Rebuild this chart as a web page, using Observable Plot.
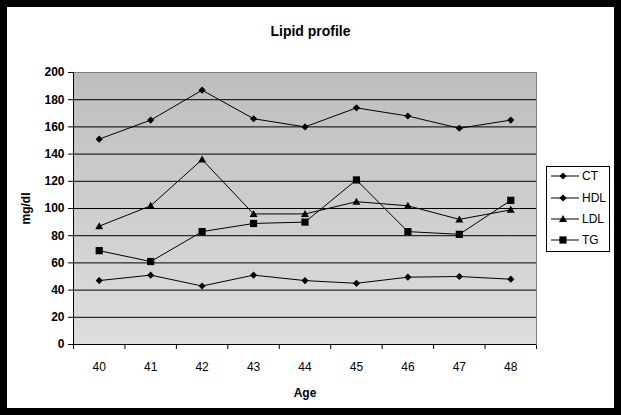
<!DOCTYPE html>
<html>
<head>
<meta charset="utf-8">
<script src="https://cdn.jsdelivr.net/npm/d3@7"></script>
<script src="https://cdn.jsdelivr.net/npm/@observablehq/plot@0.6"></script>
<style>
  html, body { margin: 0; padding: 0; background: #fff; }
  #wrap { position: relative; width: 621px; height: 415px; background: #fff; overflow: hidden;
          font-family: "Liberation Sans", Arial, sans-serif; }
  #border { position: absolute; left: 0; top: 0; width: 621px; height: 415px; box-sizing: border-box;
            border: 7px solid #000; pointer-events: none; }
  #title { position: absolute; left: 7px; width: 607px; top: 23px; text-align: center;
           font-weight: bold; font-size: 14px; color: #000; }
  #legend { position: absolute; left: 546px; top: 166px; }
  #chart { position: absolute; left: 0; top: 0; }
</style>
</head>
<body>
<div id="wrap">
  <div id="chart"></div>
  <div id="title">Lipid profile</div>
  <div id="legend"></div>
  <div id="border"></div>
</div>
<script>
// ---- data ----
const ages = [40, 41, 42, 43, 44, 45, 46, 47, 48];
const ct  = [151, 165, 187, 166, 160, 174, 168, 159, 165];
const hdl = [47, 51, 43, 51, 47, 45, 49.5, 50, 48];
const ldl = [87, 102, 136, 96, 96, 105, 102, 92, 99];
const tg  = [69, 61, 83, 89, 90, 121, 83, 81, 106];
const seriesNames = ["CT", "HDL", "LDL", "TG"];
const yTicks = [0, 20, 40, 60, 80, 100, 120, 140, 160, 180, 200];

// ---- symbols ----
const diamond = {draw(ctx, size) { const r = Math.sqrt(size / Math.PI);
  ctx.moveTo(0, -r); ctx.lineTo(r, 0); ctx.lineTo(0, r); ctx.lineTo(-r, 0); ctx.closePath(); }};
const triangle = {draw(ctx, size) { const r = Math.sqrt(size / Math.PI);
  ctx.moveTo(0, -r); ctx.lineTo(r, r * 0.75); ctx.lineTo(-r, r * 0.75); ctx.closePath(); }};
const square = {draw(ctx, size) { const r = Math.sqrt(size / Math.PI);
  ctx.rect(-r, -r, 2 * r, 2 * r); }};
const seriesValues = [ct, hdl, ldl, tg];
const seriesSymbols = [diamond, diamond, triangle, square];
const seriesR = [3.6, 3.6, 4, 3.6];

const bounds = ages.map(a => a - 0.5).concat([ages[ages.length - 1] + 0.5]);

const marks = [
  Plot.frame({fill: "url(#plotbg)", stroke: "#808080"}),
  Plot.ruleY(yTicks.slice(1, -1), {stroke: "#000", strokeWidth: 1}),
  Plot.ruleY([0], {stroke: "#000"}),
  Plot.ruleX([bounds[0]], {stroke: "#000"}),
  Plot.text(ages, {x: d => d, frameAnchor: "bottom", dy: 26, text: d => String(d), fontSize: 12, fill: "#000"})
];
seriesValues.forEach((vals, k) => {
  const rows = ages.map((a, i) => ({age: a, value: vals[i]}));
  marks.push(Plot.line(rows, {x: "age", y: "value", stroke: "#000", strokeWidth: 1}));
  marks.push(Plot.dot(rows, {x: "age", y: "value", symbol: seriesSymbols[k], r: seriesR[k], fill: "#000", stroke: "none"}));
});

const chart = Plot.plot({
  width: 621,
  height: 415,
  marginLeft: 73,
  marginRight: 85,
  marginTop: 72,
  marginBottom: 71,
  style: {fontFamily: "'Liberation Sans', Arial, sans-serif", fontSize: "12px", color: "#000", background: "transparent"},
  x: {domain: [bounds[0], bounds[bounds.length - 1]], ticks: bounds, tickFormat: () => "", tickSize: 5,
      label: "Age", labelAnchor: "center", labelOffset: 52, labelArrow: "none"},
  y: {domain: [0, 200], ticks: yTicks, tickSize: 5, tickPadding: 4, label: "mg/dl", labelAnchor: "center",
      labelOffset: 52, labelArrow: "none"},
  marks
});

// gradient defs
const svgNS = "http://www.w3.org/2000/svg";
const defs = document.createElementNS(svgNS, "defs");
defs.innerHTML = '<linearGradient id="plotbg" x1="0" y1="0" x2="0" y2="1">' +
  '<stop offset="0" stop-color="#bebebe"/><stop offset="1" stop-color="#dedede"/></linearGradient>';
chart.insertBefore(defs, chart.firstChild);
// bold axis labels, no arrows
chart.querySelectorAll("[aria-label$='label']").forEach(g => {
  g.style.fontWeight = "bold";
  g.querySelectorAll("text, tspan").forEach(t => {
    if (!t.children.length) t.textContent = t.textContent.replace(/\s*[→↑←↓]\s*/g, "");
  });
});
document.getElementById("chart").appendChild(chart);

// ---- legend (not data marks) ----
const lg = d3.select("#legend").append("svg").attr("width", 64).attr("height", 86);
lg.append("rect").attr("x", 0.5).attr("y", 0.5).attr("width", 63).attr("height", 85)
  .attr("fill", "#fff").attr("stroke", "#000");
const rowY = [10, 32, 53, 74];
seriesNames.forEach((name, k) => {
  const g = lg.append("g").attr("transform", `translate(0,${rowY[k]})`);
  g.append("line").attr("x1", 5).attr("x2", 33).attr("y1", 0).attr("y2", 0).attr("stroke", "#000");
  const r = seriesR[k];
  g.append("path").attr("transform", "translate(17,0)")
    .attr("d", d3.symbol(seriesSymbols[k], r * r * Math.PI)()).attr("fill", "#000");
  g.append("text").attr("x", 36).attr("y", 0).attr("dy", "0.36em")
    .attr("font-size", 12).attr("font-family", "'Liberation Sans', Arial, sans-serif").text(name);
});
</script>
</body>
</html>
